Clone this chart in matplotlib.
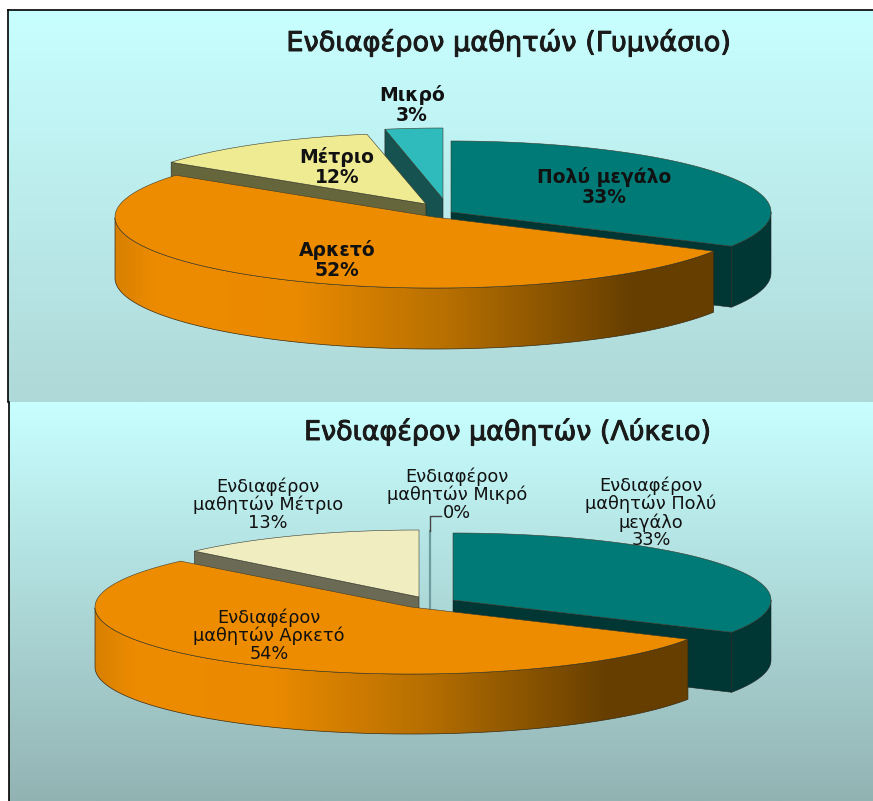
import numpy as np
import matplotlib
matplotlib.use("Agg")
import matplotlib.pyplot as plt
import matplotlib.patheffects as pe
from matplotlib.colors import LinearSegmentedColormap
from matplotlib.patches import Polygon

plt.rcParams['font.family'] = ['DejaVu Sans']

# Data
categories = ["Πολύ μεγάλο", "Αρκετό", "Μέτριο", "Μικρό"]
gym_values = [33, 52, 12, 3]
lyk_values = [33, 54, 13, 0]
gym_title = "Ενδιαφέρον μαθητών (Γυμνάσιο)"
lyk_title = "Ενδιαφέρον μαθητών (Λύκειο)"
prefix = "Ενδιαφέρον\nμαθητών "

# Colours, top face and side face for every slice
gym_top = ["#007A76", "#EE8C00", "#EFEB92", "#2FBBBB"]
lyk_top = ["#007A76", "#EE8C00", "#F0EDC0", "#2FBBBB"]
gym_side = ["#003634", None, "#66663C", "#165250"]
lyk_side = ["#003634", None, "#6A6A55", "#165250"]
orange_rim = LinearSegmentedColormap.from_list("rim", [
    (0.0, "#D88000"), (0.07, "#EE8C00"), (0.3, "#EA8A00"),
    (0.55, "#B87000"), (0.87, "#653E00"), (1.0, "#663E00")])

# Layout in picture pixels
gym_centers = [(451, 212), (434, 217), (426, 204), (443, 199)]
lyk_centers = [(453, 600), (411, 607), (419, 597), (430, 598)]
gym_rx = [320, 319, 315, 310]
lyk_rx = [318, 316, 308, 318]
gym_ry, lyk_ry = 71, 67
gym_depth, lyk_depth = 61, 60
draw_order = [3, 2, 0, 1]

W, H = 873, 801
fig = plt.figure(figsize=(W / 100, H / 100), dpi=100, facecolor="white")
ax = fig.add_axes([0, 0, 1, 1])


def panel(x0, y0, y1, c0, c1):
    cm = LinearSegmentedColormap.from_list("bg", [c0, c1])
    grad = np.linspace(0, 1, 256).reshape(-1, 1)
    ax.imshow(grad, cmap=cm, extent=(x0, W, y1, y0), aspect="auto", zorder=0)
    ax.plot([x0, x0], [y0, y1], color="black", lw=1.2, zorder=1)


def draw_pie(values, centers, rxs, ry, depth, tops, sides):
    ends = 90 - np.cumsum(values) * 3.6
    starts = np.concatenate([[90], ends[:-1]])
    for i in draw_order:
        cx, cy = centers[i]
        rx = rxs[i]
        if values[i] == 0:
            # empty slice still leaves a thin sliver
            ax.plot([cx, cx], [cy - ry, cy + depth / 2], color="#6F9C9E", lw=1.6, zorder=3)
            continue
        t1, t0 = starts[i], ends[i]
        th = np.radians(np.linspace(t0, t1, 200))
        px = cx + rx * np.cos(th)
        py = cy - ry * np.sin(th)

        # cut faces that look towards the viewer
        for t, show in ((t1, np.cos(np.radians(t1)) < -1e-6), (t0, np.cos(np.radians(t0)) > 1e-6)):
            if show and sides[i] is not None:
                ex = cx + rx * np.cos(np.radians(t))
                ey = cy - ry * np.sin(np.radians(t))
                ax.fill([cx, ex, ex, cx], [cy, ey, ey + depth, cy + depth],
                        color=sides[i], ec="#222222", lw=0.4, zorder=3)

        # outer rim, only the part below the ellipse middle
        keep = np.sin(th) <= 0
        if keep.any():
            rim = np.column_stack([np.r_[px[keep], px[keep][::-1]],
                                   np.r_[py[keep], py[keep][::-1] + depth]])
            if sides[i] is None:
                grad = np.linspace(0, 1, 512).reshape(1, -1)
                im = ax.imshow(grad, cmap=orange_rim, aspect="auto", zorder=3,
                               extent=(rim[:, 0].min(), rim[:, 0].max(),
                                       rim[:, 1].max(), rim[:, 1].min()))
                clip = Polygon(rim, closed=True, transform=ax.transData, fc="none",
                               ec="#3A2A10", lw=0.5, zorder=3)
                ax.add_patch(clip)
                im.set_clip_path(clip)
            else:
                ax.fill(rim[:, 0], rim[:, 1], color=sides[i], ec="#222222", lw=0.4, zorder=3)

        ax.fill(np.r_[cx, px], np.r_[cy, py], color=tops[i], ec="#3C3C2C", lw=0.4, zorder=3)


panel(8, 10, 402, "#C8FFFF", "#AFD8D8")
panel(9, 402, 801, "#C8FFFF", "#93B3B3")
ax.plot([8, W], [10, 10], color="black", lw=1.2, zorder=1)

draw_pie(gym_values, gym_centers, gym_rx, gym_ry, gym_depth, gym_top, gym_side)
draw_pie(lyk_values, lyk_centers, lyk_rx, lyk_ry, lyk_depth, lyk_top, lyk_side)

# Titles, slightly thickened like the blurry original
thick = [pe.withStroke(linewidth=0.7, foreground="#1A1A1A")]
ax.text(509, 43, gym_title, fontsize=19.6, color="#1A1A1A",
        ha="center", va="center", zorder=5, path_effects=thick)
ax.text(507, 432, lyk_title, fontsize=19.4, color="#1A1A1A",
        ha="center", va="center", zorder=5, path_effects=thick)

# Labels of the first pie
gym_pos = [(604, 187), (337, 260), (337, 167), (412, 105)]
for name, val, (x, y) in zip(categories, gym_values, gym_pos):
    ax.text(x, y, f"{name}\n{val}%", fontsize=13.5, fontweight="bold", color="#111111",
            ha="center", va="center", linespacing=1.1, zorder=5)

# Labels of the second pie
lyk_pos = [(651, 513), (269, 636), (268, 505), (457, 495)]
lyk_names = ["Ενδιαφέρον\nμαθητών Πολύ\nμεγάλο", prefix + "Αρκετό", prefix + "Μέτριο", prefix + "Μικρό"]
for name, val, (x, y) in zip(lyk_names, lyk_values, lyk_pos):
    ax.text(x, y, f"{name}\n{val}%", fontsize=12.8, color="#111111",
            ha="center", va="center", linespacing=0.98, zorder=5)

# leader line of the 0% label
ax.plot([430, 430, 441], [531, 516, 516], color="#444444", lw=1.0, zorder=4)

ax.set_xlim(0, W)
ax.set_ylim(H, 0)
ax.axis("off")
fig.savefig("out.png", dpi=100)
